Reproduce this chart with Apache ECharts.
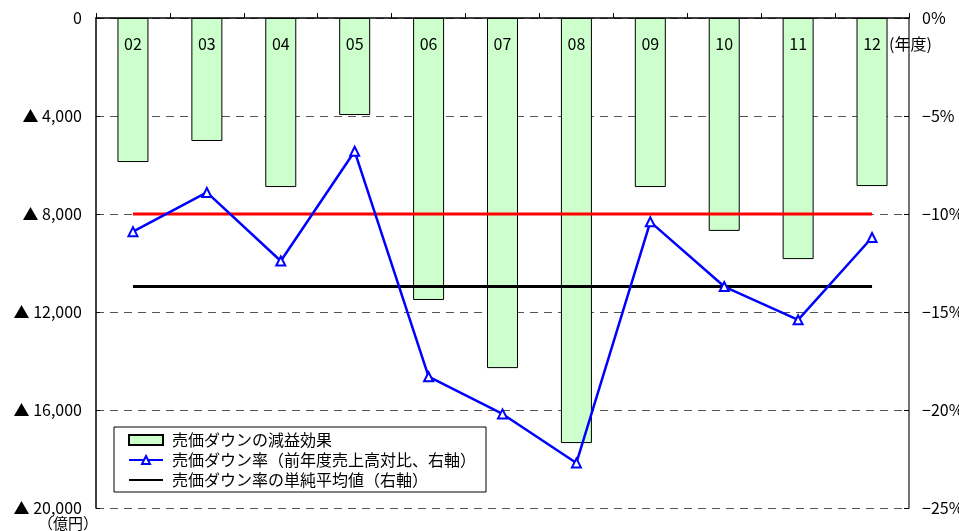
<!DOCTYPE html>
<html>
<head>
<meta charset="utf-8">
<script src="https://cdn.jsdelivr.net/npm/echarts@6/dist/echarts.min.js"></script>
<style>
  html, body { margin: 0; padding: 0; background: #fff; }
  #chart { width: 959px; height: 531px; }
</style>
</head>
<body>
<div id="chart"></div>
<script>
// fiscal years
const years = ['02', '03', '04', '05', '06', '07', '08', '09', '10', '11', '12']
// 売価ダウンの減益効果 (億円, negative = loss)
const profitEffect = [-5880, -5020, -6900, -3960, -11510, -14290, -17350, -6900, -8690, -9840, -6860]
// 売価ダウン率 (%)
const downRate = [-10.9, -8.9, -12.4, -6.8, -18.3, -20.2, -22.7, -10.4, -13.7, -15.4, -11.2]
// simple average of the rate, and the red reference level
const avgRate = -13.7
const refRate = -10

const font = "'Noto Sans CJK JP', 'Noto Sans', sans-serif"
const names = ['売価ダウンの減益効果', '売価ダウン率（前年度売上高対比、右軸）', '売価ダウン率の単純平均値（右軸）']

const fmtLeft = v => {
  if (v === 0) return '0'
  return '▲ ' + Math.abs(v).toLocaleString('en-US')
}
const fmtRight = v => (v === 0 ? '0%' : '−' + Math.abs(v) + '%')

const chart = echarts.init(document.getElementById('chart'))
chart.setOption({
  animation: false,
  textStyle: { fontFamily: font },
  grid: { left: 96, right: 50, top: 18, bottom: 23, outerBoundsMode: 'none', containLabel: false },
  legend: {
    orient: 'vertical',
    left: 114,
    top: 427,
    padding: [5, 10, 4, 14],
    itemGap: 4,
    itemWidth: 34,
    itemHeight: 10,
    borderColor: '#000',
    borderWidth: 1,
    backgroundColor: '#fff',
    textStyle: { fontSize: 16, color: '#000', fontFamily: font, padding: [0, 0, 0, 4] },
    data: [
      { name: names[0], icon: 'rect' },
      names[1],
      { name: names[2], itemStyle: { opacity: 0 } }
    ]
  },
  xAxis: {
    type: 'category',
    data: years,
    position: 'top',
    name: '(年度)',
    nameLocation: 'end',
    nameGap: -20,
    nameTextStyle: { fontSize: 16, color: '#000', verticalAlign: 'top', padding: [18, 0, 0, 0] },
    axisLine: { lineStyle: { color: '#000', width: 1.5 } },
    axisTick: { show: true, length: 5, lineStyle: { color: '#000' } },
    axisLabel: { show: false },
    splitLine: { show: false }
  },
  yAxis: [
    {
      type: 'value',
      min: -20000,
      max: 0,
      interval: 4000,
      name: '（億円）',
      nameLocation: 'start',
      nameGap: 7,
      nameTextStyle: { fontSize: 15, color: '#000', padding: [0, 56, 0, 0] },
      axisLine: { show: true, lineStyle: { color: '#000', width: 1.5 } },
      axisTick: { show: true, inside: true, length: 4, lineStyle: { color: '#000' } },
      axisLabel: { formatter: fmtLeft, fontSize: 16, color: '#000', margin: 14 },
      splitLine: { show: true, lineStyle: { color: '#555', type: [8, 6], width: 1 } }
    },
    {
      type: 'value',
      min: -25,
      max: 0,
      interval: 5,
      position: 'right',
      axisLine: { show: true, lineStyle: { color: '#444', width: 1.5 } },
      axisTick: { show: true, inside: true, length: 5, lineStyle: { color: '#000' } },
      axisLabel: { formatter: fmtRight, fontSize: 16, color: '#000', margin: 13 },
      splitLine: { show: false }
    }
  ],
  series: [
    {
      name: names[0],
      type: 'bar',
      data: profitEffect,
      barWidth: 31,
      itemStyle: { color: '#ccffcc', borderColor: '#000', borderWidth: 1 },
      label: {
        show: true,
        position: 'insideTop',
        distance: 18,
        formatter: '{b}',
        fontSize: 16,
        color: '#000',
        fontFamily: font
      },
      z: 2
    },
    {
      name: names[2],
      type: 'line',
      yAxisIndex: 1,
      data: years.map(() => avgRate),
      symbol: 'none',
      lineStyle: { color: '#000', width: 3 },
      itemStyle: { color: '#000' },
      z: 3
    },
    {
      name: 'ref',
      type: 'line',
      yAxisIndex: 1,
      data: years.map(() => refRate),
      symbol: 'none',
      lineStyle: { color: '#ff0000', width: 3 },
      itemStyle: { color: '#ff0000' },
      z: 3
    },
    {
      name: names[1],
      type: 'line',
      yAxisIndex: 1,
      data: downRate,
      symbol: 'emptyTriangle',
      symbolSize: 9,
      lineStyle: { color: '#0000ff', width: 2.5 },
      itemStyle: { color: '#0000ff', borderWidth: 1.2 },
      z: 4
    }
  ]
})
</script>
</body>
</html>
